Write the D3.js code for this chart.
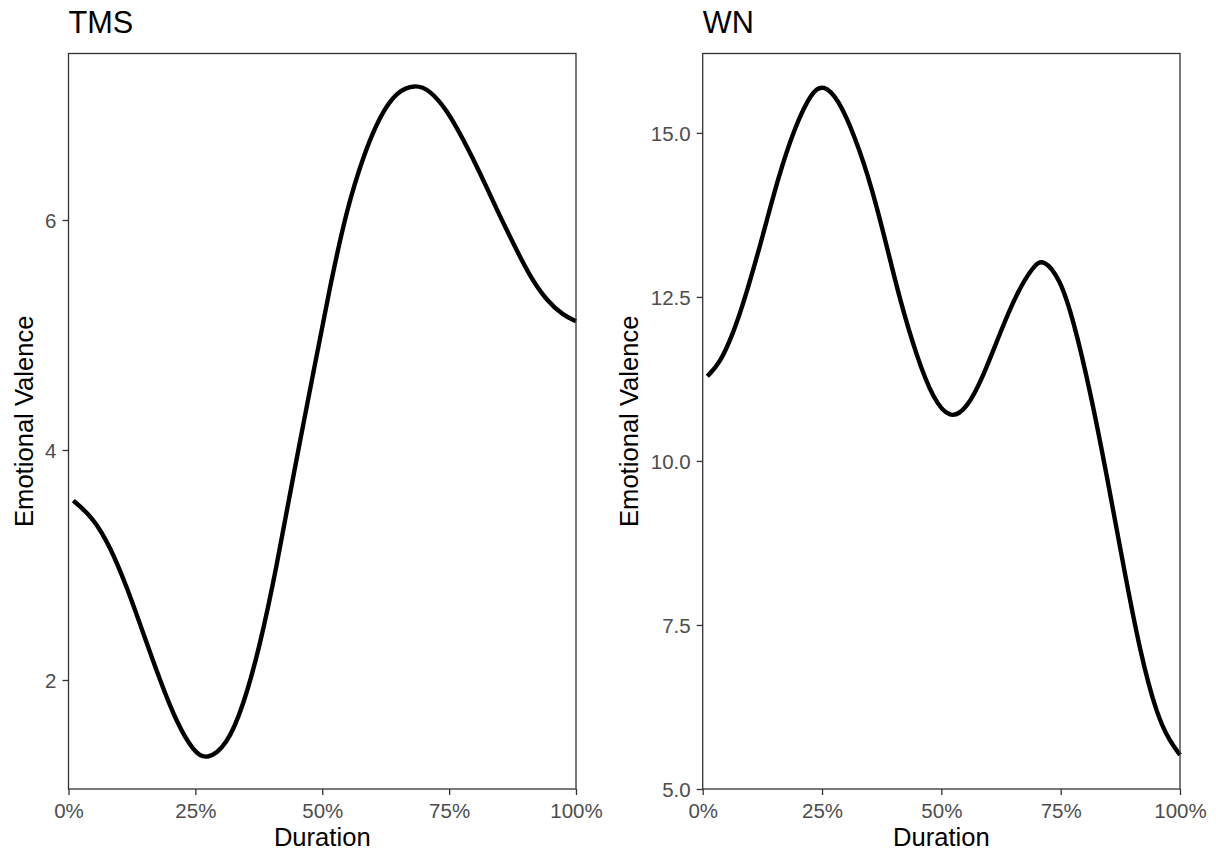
<!DOCTYPE html>
<html>
<head>
<meta charset="utf-8">
<script src="https://cdn.jsdelivr.net/npm/d3@7"></script>
<style>
  html, body { margin: 0; padding: 0; background: #fff; }
  svg { display: block; font-family: "Liberation Sans", Arial, Helvetica, sans-serif; }
</style>
</head>
<body>
<svg id="chart" width="1216" height="852"></svg>
<script>
// ---- data ----
const panelTitles = ["TMS", "WN"];
const xTicks = [0, 25, 50, 75, 100];
const xTickLabels = ["0%", "25%", "50%", "75%", "100%"];

const tmsDuration = [0.95, 4.9, 8.2, 11.5, 14.7, 18.0, 21.3, 24.6, 27.2, 31.2, 34.4, 37.7, 41.0, 44.3, 48.2, 51.5, 54.8, 58.1, 61.4, 64.7, 68.3, 71.2, 74.5, 77.8, 81.1, 84.4, 87.6, 90.9, 94.2, 97.5, 100];
const tmsValence  = [3.56, 3.41, 3.16, 2.81, 2.41, 2.00, 1.63, 1.38, 1.30, 1.43, 1.77, 2.29, 2.98, 3.78, 4.66, 5.42, 6.09, 6.56, 6.91, 7.12, 7.18, 7.13, 6.96, 6.70, 6.41, 6.09, 5.80, 5.51, 5.30, 5.17, 5.12];
const tmsYTicks = [2, 4, 6];
const tmsYRange = [1.052, 7.448];

const wnDuration = [0.96, 3.62, 6.41, 8.51, 10.6, 12.36, 15.84, 19.34, 22.84, 25.27, 28.41, 31.91, 35.41, 38.89, 41.34, 44.84, 48.31, 51.81, 55.31, 58.79, 62.29, 65.79, 69.26, 71.36, 74.86, 77.65, 81.15, 84.64, 88.12, 91.62, 95.12, 97.9, 100];
const wnValence  = [11.29, 11.49, 11.95, 12.40, 12.92, 13.37, 14.33, 15.10, 15.63, 15.74, 15.52, 14.94, 14.18, 13.18, 12.45, 11.59, 10.94, 10.63, 10.79, 11.29, 11.95, 12.56, 12.97, 13.09, 12.78, 12.15, 11.08, 9.79, 8.41, 7.09, 6.13, 5.72, 5.52];
const wnYTicks = [5.0, 7.5, 10.0, 12.5, 15.0];
const wnYRange = [5.0, 16.21];

const xTitle = "Duration";
const yTitle = "Emotional Valence";

// ---- layout ----
const svg = d3.select("#chart");
const plotTop = 53.5, plotBottom = 789;
const panels = [
  { title: panelTitles[0], xs: tmsDuration, ys: tmsValence, yTicks: tmsYTicks, yRange: tmsYRange, fmt: d3.format("d"), left: 68.5, right: 576, yTitleX: 33 },
  { title: panelTitles[1], xs: wnDuration, ys: wnValence, yTicks: wnYTicks, yRange: wnYRange, fmt: d3.format(".1f"), left: 702.7, right: 1180, yTitleX: 638 }
];

const axisCol = "#333333", tickTextCol = "#4D4D4D";

panels.forEach(p => {
  const data = p.xs.map((d, i) => ({ x: d, y: p.ys[i] }));
  const x = d3.scaleLinear().domain([0, 100]).range([p.left, p.right]);
  const y = d3.scaleLinear().domain(p.yRange).range([plotBottom, plotTop]);

  const g = svg.append("g");

  // curve
  g.append("path")
    .datum(data)
    .attr("fill", "none")
    .attr("stroke", "#000")
    .attr("stroke-width", 4.4)
    .attr("d", d3.line().x(d => x(d.x)).y(d => y(d.y)).curve(d3.curveBasis));

  // panel border
  g.append("rect")
    .attr("x", p.left).attr("y", plotTop)
    .attr("width", p.right - p.left).attr("height", plotBottom - plotTop)
    .attr("fill", "none").attr("stroke", axisCol).attr("stroke-width", 1.3);

  // x axis
  const xa = g.append("g").attr("transform", `translate(0,${plotBottom})`)
    .call(d3.axisBottom(x).tickValues(xTicks).tickFormat((d, i) => xTickLabels[i]).tickSizeInner(6).tickSizeOuter(0).tickPadding(4));
  xa.select(".domain").remove();
  xa.selectAll("line").attr("stroke", axisCol).attr("stroke-width", 1.3);
  xa.selectAll("text").attr("fill", tickTextCol).attr("font-size", 20.5).attr("font-family", null).attr("dy", null).attr("y", 28.5);

  // y axis
  const ya = g.append("g").attr("transform", `translate(${p.left},0)`)
    .call(d3.axisLeft(y).tickValues(p.yTicks).tickFormat(p.fmt).tickSizeInner(6).tickSizeOuter(0).tickPadding(6));
  ya.select(".domain").remove();
  ya.selectAll("line").attr("stroke", axisCol).attr("stroke-width", 1.3);
  ya.selectAll("text").attr("fill", tickTextCol).attr("font-size", 20.5).attr("font-family", null).attr("dy", "0.36em");

  // titles
  g.append("text").attr("x", p.left).attr("y", 33)
    .attr("font-size", 30.7).attr("fill", "#000").text(p.title);
  g.append("text").attr("x", (p.left + p.right) / 2).attr("y", 846)
    .attr("text-anchor", "middle").attr("font-size", 25.6).attr("fill", "#000").text(xTitle);
  g.append("text")
    .attr("transform", `translate(${p.yTitleX},${(plotTop + plotBottom) / 2}) rotate(-90)`)
    .attr("text-anchor", "middle").attr("font-size", 25.6).attr("fill", "#000").text(yTitle);
});
</script>
</body>
</html>
